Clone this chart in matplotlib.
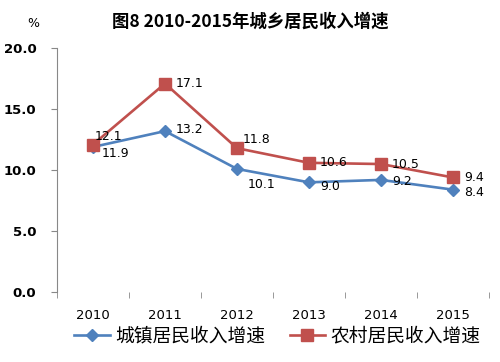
import matplotlib
matplotlib.use("Agg")
import matplotlib.pyplot as plt

plt.rcParams['font.family'] = ['Noto Sans CJK SC', 'DejaVu Sans']

years = ["2010", "2011", "2012", "2013", "2014", "2015"]
urban = [11.9, 13.2, 10.1, 9.0, 9.2, 8.4]
rural = [12.1, 17.1, 11.8, 10.6, 10.5, 9.4]
yticks = [0.0, 5.0, 10.0, 15.0, 20.0]

blue = "#4F81BD"
red = "#C0504D"

fig = plt.figure(figsize=(5, 3.62), dpi=100)
ax = fig.add_axes([0.114, 0.193, 0.864, 0.674])
x = range(len(years))

ax.plot(x, urban, color=blue, lw=1.9, marker="D", ms=6, label="城镇居民收入增速")
ax.plot(x, rural, color=red, lw=1.9, marker="s", ms=8.5, label="农村居民收入增速")

# label offsets in points (dx, dy)
u_off = [(6, -5), (8, 1), (8, -11), (8, -3), (8, -1), (8, -2)]
r_off = [(1, 6), (8, 0), (4, 6), (8, 0), (8, 0), (8, 0)]
for i, v in enumerate(urban):
    ax.annotate("%.1f" % v, (i, v), xytext=u_off[i], textcoords="offset points",
                fontsize=9, ha="left", va="center", family="DejaVu Sans")
for i, v in enumerate(rural):
    ax.annotate("%.1f" % v, (i, v), xytext=r_off[i], textcoords="offset points",
                fontsize=9, ha="left", va="center", family="DejaVu Sans")

ax.set_xlim(-0.5, 5.5)
ax.set_ylim(0, 20)
ax.set_yticks(yticks)
ax.set_yticklabels(["%.1f" % t for t in yticks], fontweight="bold", fontsize=9.5,
                   family="DejaVu Sans")
ax.set_xticks(list(x))
ax.set_xticklabels(years, fontsize=9.5, family="DejaVu Sans")
ax.set_xticks([i + 0.5 for i in range(-1, 6)], minor=True)
ax.tick_params(axis="x", which="major", length=0, pad=12)
ax.tick_params(axis="x", which="minor", length=4, color="#888888", direction="out")
ax.tick_params(axis="y", length=4.3, color="#888888", pad=10.5)

for s in ["top", "right", "bottom"]:
    ax.spines[s].set_visible(False)
ax.spines["left"].set_color("#888888")

fig.text(0.5, 0.939, "图8 2010-2015年城乡居民收入增速", ha="center", va="center",
         fontsize=12.5, fontweight="bold")
fig.text(0.066, 0.935, "%", ha="center", va="center", fontsize=9, family="DejaVu Sans")

ax.legend(loc="center", bbox_to_anchor=(0.51, -0.18), ncol=2, frameon=False,
          fontsize=13.5, handlelength=1.9, handletextpad=0.3, columnspacing=1.3,
          borderaxespad=0)

fig.savefig("out.png", dpi=100)
